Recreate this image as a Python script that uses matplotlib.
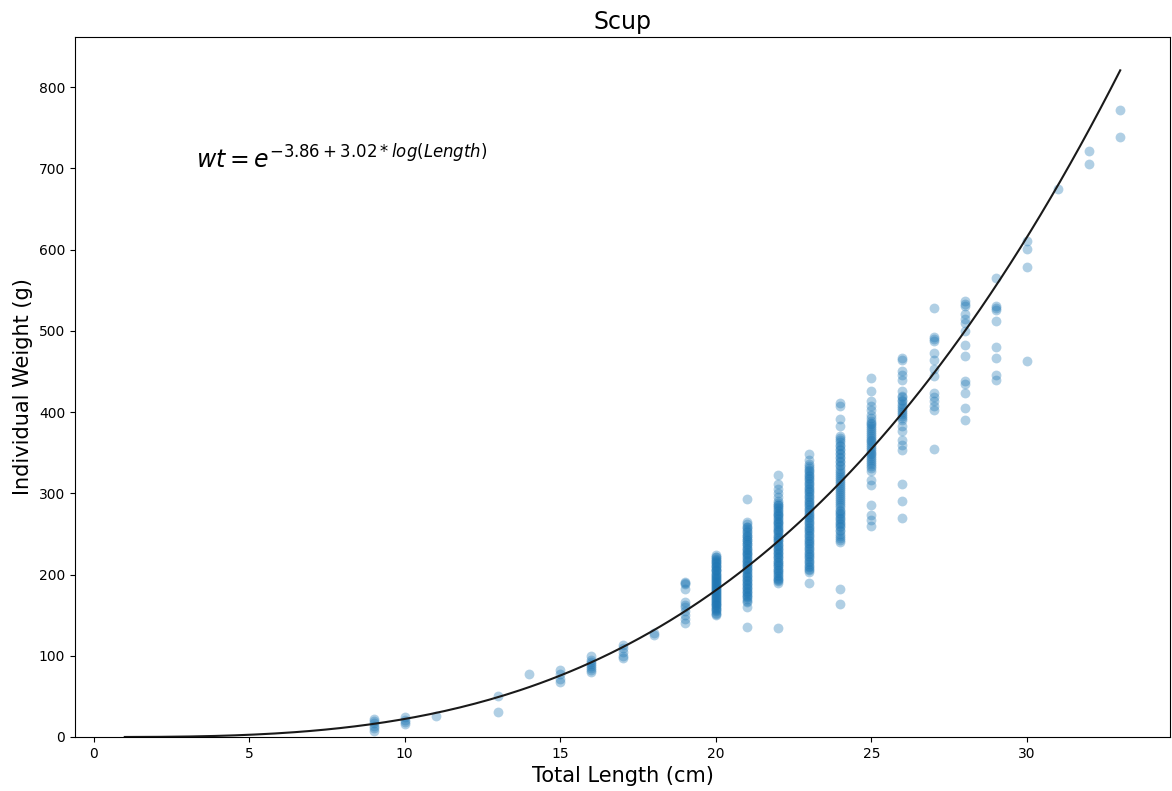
import numpy as np
import matplotlib
matplotlib.use("Agg")
import matplotlib.pyplot as plt

w09 = [8, 11, 14, 17, 20, 22]
w10 = [16, 18, 21, 25]
w11 = [26]
w13 = [31, 50]
w14 = [78]
w15 = [68, 72, 77, 82]
w16 = [80, 82, 85, 88, 90, 92, 95, 100]
w17 = [97, 100, 105, 110, 113]
w18 = [125, 128]
w19 = [140, 145, 150, 155, 160, 163, 166, 182, 188, 190, 191]
w20 = [150, 152, 153, 155, 156, 158, 159, 160, 162, 163, 164, 165, 166, 168,
       169, 170, 171, 172, 173, 175, 176, 177, 178, 180, 181, 182, 183, 185,
       186, 187, 188, 190, 191, 192, 193, 195, 196, 197, 198, 200, 201, 202,
       204, 205, 206, 207, 209, 210, 211, 213, 214, 215, 217, 218, 219, 221,
       222, 224]
w21 = [135, 160, 166, 168, 170, 172, 174, 175, 177, 178, 180, 182, 183, 185,
       187, 188, 190, 192, 193, 195, 197, 198, 200, 202, 203, 205, 207, 208,
       210, 212, 213, 215, 217, 218, 220, 222, 224, 225, 227, 228, 230, 232,
       233, 235, 237, 238, 240, 242, 243, 245, 247, 248, 250, 252, 253, 256,
       258, 259, 262, 265, 293]
w22 = [134, 190, 192, 193, 195, 196, 198, 200, 202, 203, 205, 206, 208, 210,
       212, 213, 215, 216, 218, 220, 222, 223, 225, 226, 228, 230, 232, 233,
       235, 236, 238, 240, 242, 243, 245, 246, 248, 250, 252, 253, 255, 256,
       258, 260, 262, 263, 265, 266, 268, 270, 272, 273, 275, 276, 278, 280,
       282, 283, 285, 286, 288, 290, 295, 300, 305, 312, 323]
w23 = [190, 203, 205, 207, 209, 211, 213, 215, 217, 219, 221, 223, 225, 227,
       229, 231, 233, 235, 237, 239, 241, 243, 245, 247, 249, 251, 253, 255,
       257, 259, 261, 263, 265, 267, 269, 271, 273, 275, 277, 279, 281, 283,
       285, 287, 289, 291, 293, 295, 297, 299, 301, 303, 305, 307, 309, 311,
       313, 315, 317, 319, 321, 323, 325, 327, 329, 331, 333, 336, 341, 348]
w24 = [164, 182, 240, 243, 245, 248, 250, 253, 255, 258, 260, 262, 264, 266,
       268, 270, 272, 274, 276, 278, 280, 283, 285, 288, 290, 293, 295, 298,
       300, 303, 305, 308, 310, 313, 315, 318, 320, 323, 325, 328, 330, 333,
       335, 338, 340, 343, 345, 348, 350, 353, 355, 358, 360, 363, 365, 368,
       370, 383, 391, 408, 411]
w25 = [260, 267, 273, 285, 310, 316, 328, 331, 333, 336, 338, 341, 343, 346,
       348, 350, 352, 355, 357, 360, 362, 364, 366, 368, 370, 373, 375, 378,
       380, 383, 385, 387, 389, 393, 396, 402, 408, 414, 426, 442]
w26 = [270, 291, 312, 353, 359, 365, 377, 383, 390, 393, 395, 398, 400, 403,
       405, 408, 410, 413, 415, 418, 420, 426, 439, 445, 451, 464, 467]
w27 = [354, 402, 408, 414, 418, 424, 444, 453, 464, 473, 488, 490, 492, 528]
w28 = [390, 405, 423, 435, 438, 469, 482, 500, 509, 515, 521, 531, 533, 537]
w29 = [440, 446, 467, 480, 512, 526, 528, 530, 565]
w30 = [463, 579, 601, 610]
w31 = [675]
w32 = [705, 721]
w33 = [739, 772]

lengths = [9, 10, 11, 13, 14, 15, 16, 17, 18, 19, 20, 21, 22, 23, 24, 25,
           26, 27, 28, 29, 30, 31, 32, 33]
weights = [w09, w10, w11, w13, w14, w15, w16, w17, w18, w19, w20, w21, w22,
           w23, w24, w25, w26, w27, w28, w29, w30, w31, w32, w33]

# fitted length-weight relation (label shows rounded coefficients)
intercept = -3.86
slope = 3.023
fit_min, fit_max = 1, 33

x = []
y = []
for length, ws in zip(lengths, weights):
    x += [length] * len(ws)
    y += ws

fig = plt.figure(figsize=(11.72, 7.91), dpi=100)
ax = fig.add_axes([75 / 1172, 54 / 791, 1095 / 1172, 700 / 791])

ax.scatter(x, y, s=50, alpha=0.35, color="C0", linewidths=0)

fit_x = np.linspace(fit_min, fit_max, 200)
fit_y = np.exp(intercept + slope * np.log(fit_x))
ax.plot(fit_x, fit_y, color="#1a1a1a", linewidth=1.5)

ax.text(3.3, 700, r"$wt = e^{-3.86 + 3.02*log(Length)}$", fontsize=17)

ax.set_ylim(bottom=0)
ax.set_title("Scup", fontsize=17)
ax.set_xlabel("Total Length (cm)", fontsize=15)
ax.set_ylabel("Individual Weight (g)", fontsize=15)

fig.savefig("out.png", dpi=100)
